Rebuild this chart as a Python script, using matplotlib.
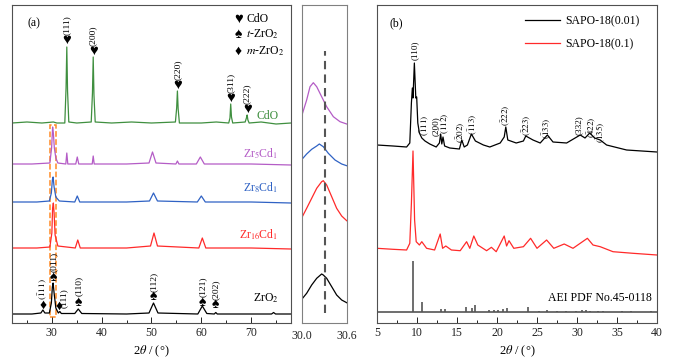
import numpy as np
import matplotlib.pyplot as plt
from matplotlib.patches import Rectangle
from matplotlib.ticker import MultipleLocator

plt.rcParams['font.family'] = ['Liberation Serif', 'DejaVu Sans']
plt.rcParams['mathtext.fontset'] = 'stix'

# ---------------- panel (a): traced XRD patterns (2theta, intensity a.u. with offsets)
cdo_x = [22, 25, 28, 30.3, 31, 32.6, 32.85, 33.0, 33.15, 33.4, 35, 37.9, 38.15, 38.3, 38.45, 38.7,
         42, 46, 50, 54.8, 55.05, 55.2, 55.35, 55.6, 60, 63, 65.5, 65.75, 65.9, 66.05, 66.3,
         68.8, 69.05, 69.2, 69.35, 69.6, 72, 75, 78]
cdo_y = [200, 201, 200, 201, 200, 200, 235, 276, 232, 201, 200, 201, 230, 266, 228, 201,
         200, 201, 200, 201, 215, 232, 214, 200, 200, 201, 200, 205, 219, 206, 200,
         201, 205, 208, 203, 200, 201, 199, 200]

zr5_x = [22, 26, 29.6, 29.95, 30.15, 30.3, 30.5, 30.8, 31.2, 32.8, 33.0, 33.2, 34.8, 35.1, 35.4,
         38.1, 38.3, 38.5, 45, 49.5, 50.2, 50.9, 54.9, 55.2, 55.5, 59, 59.8, 60.6, 65, 70, 78]
zr5_y = [159, 159, 160, 175, 196, 190, 175, 165, 160, 159, 170, 159, 159, 166, 159,
         159, 167, 159, 159, 160, 171, 160, 159, 162, 159, 159, 166, 159, 159, 159, 158]

zr8_x = [22, 27, 29.5, 29.9, 30.1, 30.25, 30.45, 30.8, 31.5, 34.6, 35.1, 35.6, 45, 49.6, 50.4,
         51.2, 59.2, 60.0, 60.8, 70, 78]
zr8_y = [121, 121, 122, 130, 143, 146, 136, 126, 122, 121, 127, 121, 121, 122, 130,
         122, 121, 127, 121, 121, 120]

zr16_x = [22, 27, 29.6, 30.0, 30.15, 30.3, 30.45, 30.65, 31.2, 34.7, 35.2, 35.7, 45, 49.8, 50.5,
          51.2, 59.5, 60.2, 60.9, 70, 78]
zr16_y = [75, 75, 76, 90, 115, 120, 110, 88, 77, 75, 83, 75, 75, 77, 90,
          77, 75, 85, 75, 75, 74]

zro2_x = [22, 26, 27.8, 28.2, 28.6, 29.5, 29.9, 30.1, 30.25, 30.45, 30.8, 31.3, 31.6, 31.9, 34.6,
          35.3, 36.0, 45, 49.5, 50.4, 51.3, 59.3, 60.2, 61.1, 62.6, 62.9, 63.2, 70, 74.1, 74.5,
          74.9, 78]
zro2_y = [9, 9, 10, 13, 10, 10, 20, 36, 40, 30, 15, 10, 11.5, 9.5, 9.5,
          14, 9.5, 9, 10, 20, 10, 9, 17, 9.5, 9, 10.5, 9, 9, 9, 10.5,
          9, 9]

# CdO reflections
cdo_pk = [33.0, 38.3, 55.2, 65.9, 69.2]
cdo_sym_y = [283, 272, 238, 225, 214]
cdo_hkl = ['(111)', '(200)', '(220)', '(311)', '(222)']

# ZrO2 reflections
zro2_pk = [28.2, 30.3, 31.5, 35.3, 50.4, 60.2, 62.9]
zro2_sym = ['\u2666', '\u2660', '\u2666', '\u2660', '\u2660', '\u2660', '\u2660']
zro2_sym_y = [17.5, 45.5, 17, 20.5, 26, 20.5, 18]
zro2_lab_x = [28.2, 30.3, 32.5, 35.4, 50.4, 60.3, 63.0]
zro2_lab_y = [22.5, 51, 15, 26.5, 31, 26, 23]
zro2_hkl = [r'$\mathrm{(\bar{1}11)}$', '(011)', '(111)', '(110)', '(112)', '(121)', '(202)']

# ---------------- inset: 30.0-30.6 zoom
ins_x_p = [30.0, 30.062, 30.107, 30.151, 30.196, 30.262, 30.329, 30.418, 30.507, 30.596]
ins_y_p = [208, 223, 236.3, 240.3, 236.3, 226.3, 216.3, 206.3, 201.3, 199]
ins_x_b = [30.0, 30.062, 30.129, 30.196, 30.231, 30.284, 30.351, 30.44, 30.529, 30.596]
ins_y_b = [163.7, 169, 173.7, 177, 179, 176.3, 169.7, 163, 159, 157.3]
ins_x_r = [30.0, 30.062, 30.129, 30.196, 30.262, 30.284, 30.329, 30.396, 30.462, 30.529, 30.596]
ins_y_r = [105.7, 114.7, 124.7, 134.7, 141.3, 142.3, 138, 126.3, 114.7, 107, 102.3]
ins_x_k = ins_x_r
ins_y_k = [24, 29.7, 38, 44.7, 49, 48, 44.7, 36.3, 28, 23, 20.3]
ref_pos = 30.307

# ---------------- panel (b)
sapo001_x = [5.0, 7.0, 8.7, 9.1, 9.3, 9.42, 9.5, 9.67, 9.85, 9.96, 10.1, 10.3, 10.6, 11.0, 11.6,
             12.4, 12.8, 12.96, 13.1, 13.25, 13.45, 14.1, 15.3, 15.6, 15.9, 16.3, 16.8, 17.3, 18.3,
             19.1, 20.4, 20.9, 21.1, 21.35, 22.4, 23.3, 23.6, 24.5, 25.4, 26.3, 27.0, 28.7, 30.4,
             31.0, 31.6, 32.2, 32.9, 33.7, 36.2, 40.0]
sapo001_y = [178, 177, 176, 180, 220, 235, 225, 260, 225, 226, 200, 190, 185, 182, 179,
             176, 180, 189, 179, 186, 177, 175, 174, 183, 176, 178, 189, 182, 178,
             176, 180, 186, 196, 183, 180, 182, 187, 183, 180, 188, 181, 180, 188,
             185, 190, 185, 183, 178, 173, 171]

sapo01_x = [5.0, 7.0, 8.7, 9.1, 9.3, 9.5, 9.7, 9.9, 10.3, 10.6, 11.2, 12.2, 12.9, 13.2, 13.6,
            14.3, 15.4, 16.2, 16.6, 17.1, 17.6, 18.7, 19.3, 19.9, 20.9, 21.2, 21.5, 22.1, 23.3,
            24.2, 25.0, 26.2, 27.1, 28.4, 29.5, 31.3, 32.0, 32.9, 34.5, 37.0, 40.0]
sapo01_y = [74.7, 73.7, 73, 79.7, 119.7, 172, 103, 81.3, 78, 81.3, 74.7, 73, 89, 74.7, 77,
            73, 72.3, 81.3, 74.7, 87, 78, 72.3, 75.7, 71.3, 87, 77, 82.3, 74.7, 76.3,
            84.7, 74.7, 83, 74.7, 79, 74.7, 84.7, 78, 76.3, 71.3, 69.7, 68]

pdf_base = 11.3
pdf_pos = [9.46, 10.62, 12.96, 13.46, 16.12, 16.92, 17.2, 19.0, 19.6, 20.1, 20.7, 21.3, 23.9,
           25.2, 26.2, 27.5, 28.6, 29.9, 30.6, 31.1, 31.6, 32.6, 33.3, 35.6, 36.8, 39.2]
pdf_top = [62.3, 21.3, 13.7, 13.7, 15.7, 15, 18, 13, 13, 13.2, 13.7, 15.3, 15.7,
           12.5, 13, 12.3, 12.3, 12.3, 12.7, 12.7, 12.5, 12.5, 12.3, 12.3, 12.3, 12.3]

b_lab_x = [9.67, 11.0, 12.4, 13.5, 15.5, 17.0, 21.1, 23.7, 26.2, 30.2, 31.8, 33.0]
b_lab_y = [273, 198, 197, 200, 191, 199, 208, 198, 195, 198, 196, 191]
b_hkl = ['(110)', r'$\mathrm{(\bar{1}11)}$', '(200)', r'$\mathrm{(\bar{1}12)}$',
         r'$\mathrm{(\bar{2}02)}$', r'$\mathrm{(\bar{1}13)}$', r'$\mathrm{(\bar{2}22)}$',
         r'$\mathrm{(\bar{2}23)}$', r'$\mathrm{(\bar{1}33)}$', '(332)',
         r'$\mathrm{(\bar{4}22)}$', r'$\mathrm{(\bar{1}35)}$']

green = '#3f8f3f'
purple = '#b45cc6'
blue = '#2f62c4'
red = '#ff2a2a'
orange = '#ff8a24'
frame = '#505050'

fig = plt.figure(figsize=(6.79, 3.58), dpi=100)
ax1 = fig.add_axes([12/679, 35/358, 279/679, 318/358])
ax2 = fig.add_axes([302/679, 35/358, 45/679, 318/358])
ax3 = fig.add_axes([377/679, 35/358, 280/679, 318/358])

for ax in (ax1, ax2, ax3):
    for s in ax.spines.values():
        s.set_color(frame)
        s.set_linewidth(0.8)
    ax.set_yticks([])
    ax.set_ylim(0, 318)
    ax.tick_params(axis='x', direction='in', labelsize=8.5, colors='#222222',
                   length=4, width=0.7, pad=3)
    ax.tick_params(axis='x', which='minor', direction='in', length=2.5, width=0.6)

# ---- (a)
lw = 0.9
ax1.plot(cdo_x, cdo_y, color=green, lw=lw)
ax1.plot(zr5_x, zr5_y, color=purple, lw=lw)
ax1.plot(zr8_x, zr8_y, color=blue, lw=lw)
ax1.plot(zr16_x, zr16_y, color=red, lw=lw)
ax1.plot(zro2_x, zro2_y, color='black', lw=lw)
ax1.add_patch(Rectangle((29.6, 6.3), 1.2, 191.7, fill=False, ec=orange, ls='--', lw=1.1))
ax1.set_xlim(22, 78)
ax1.xaxis.set_major_locator(MultipleLocator(10))
ax1.xaxis.set_minor_locator(MultipleLocator(5))
ax1.set_xlabel(r'2$\theta$ / (°)', fontsize=9, labelpad=3)

for x, ys, t in zip(cdo_pk, cdo_sym_y, cdo_hkl):
    ax1.text(x, ys, '\u2665', ha='center', va='center', fontsize=10.5)
    ax1.text(x, ys + 5, t, ha='center', va='bottom', rotation=90, fontsize=6.8)
for x, s, ys, xl, yl, t in zip(zro2_pk, zro2_sym, zro2_sym_y, zro2_lab_x, zro2_lab_y, zro2_hkl):
    ax1.text(x, ys, s, ha='center', va='center', fontsize=10)
    ax1.text(xl, yl, t, ha='center', va='bottom', rotation=90, fontsize=6.8)

ax1.text(75.5, 207, 'CdO', color=green, ha='right', va='center', fontsize=8.5)
ax1.text(75.5, 169, r'Zr$_5$Cd$_1$', color=purple, ha='right', va='center', fontsize=8.5)
ax1.text(75.5, 135, r'Zr$_8$Cd$_1$', color=blue, ha='right', va='center', fontsize=8.5)
ax1.text(75.5, 88, r'Zr$_{16}$Cd$_1$', color=red, ha='right', va='center', fontsize=8.5)
ax1.text(75.5, 25, r'ZrO$_2$', color='black', ha='right', va='center', fontsize=8.5)

ax1.text(67.4, 304, '\u2665', ha='center', va='center', fontsize=10.5)
ax1.text(67.4, 289, '\u2660', ha='center', va='center', fontsize=10)
ax1.text(67.4, 272, '\u2666', ha='center', va='center', fontsize=10)
ax1.text(69.0, 304, 'CdO', ha='left', va='center', fontsize=8.5)
ax1.text(69.0, 289, r'$t$-ZrO$_2$', ha='left', va='center', fontsize=8.5)
ax1.text(69.0, 272, r'$m$-ZrO$_2$', ha='left', va='center', fontsize=8.5)
ax1.text(0.079, 0.943, '(a)', transform=ax1.transAxes, ha='center', va='center', fontsize=8.5)

# ---- inset
ax2.plot(ins_x_p, ins_y_p, color=purple, lw=lw)
ax2.plot(ins_x_b, ins_y_b, color=blue, lw=lw)
ax2.plot(ins_x_r, ins_y_r, color=red, lw=lw)
ax2.plot(ins_x_k, ins_y_k, color='black', lw=lw)
ax2.vlines(ref_pos, 10, 272, colors='#555555', linestyles=(0, (4, 2.5)), lw=1.5)
ax2.set_xlim(30.0, 30.6)
ax2.set_xticks([30.0, 30.6])
ax2.set_xticklabels(['30.0', '30.6'])
ax2.tick_params(axis='x', length=0, pad=5)
for s in ax2.spines.values():
    s.set_color('#808080')

# ---- (b)
ax3.plot(sapo001_x, sapo001_y, color='black', lw=lw, label='SAPO-18(0.01)')
ax3.plot(sapo01_x, sapo01_y, color=red, lw=lw, label='SAPO-18(0.1)')
ax3.hlines(pdf_base, 5, 40, colors='#555555', lw=1.2)
ax3.vlines(pdf_pos, pdf_base, pdf_top, colors='#555555', lw=1.2)
ax3.set_xlim(5, 40)
ax3.xaxis.set_major_locator(MultipleLocator(5))
ax3.xaxis.set_minor_locator(MultipleLocator(2.5))
ax3.set_xlabel(r'2$\theta$ / (°)', fontsize=9, labelpad=3)
for x, y, t in zip(b_lab_x, b_lab_y, b_hkl):
    ax3.text(x, y, t, ha='center', va='center', rotation=90, fontsize=6.6)
ax3.text(39.4, 25.3, 'AEI PDF No.45-0118', ha='right', va='center', fontsize=8.5)
ax3.text(0.068, 0.943, '(b)', transform=ax3.transAxes, ha='center', va='center', fontsize=8.5)
ax3.legend(loc='upper left', bbox_to_anchor=(0.49, 1.0), frameon=False, fontsize=8.5,
           handlelength=3.0, labelspacing=0.9, handletextpad=0.4)

fig.savefig('out.png', dpi=100)
